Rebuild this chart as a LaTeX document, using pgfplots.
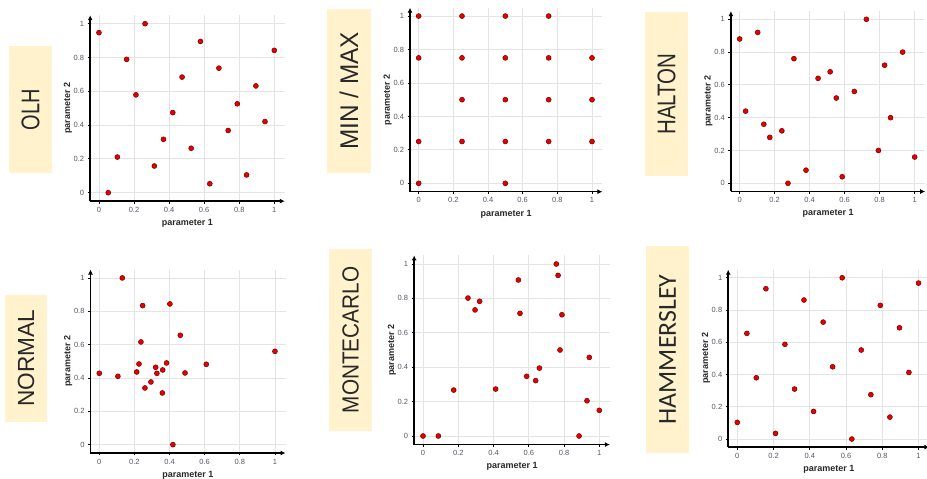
\documentclass[border=0pt]{standalone}
\usepackage{pgfplots}
\pgfplotsset{compat=1.18}
\usetikzlibrary{arrows.meta}
\usepackage{fontspec}
\setmainfont{Liberation Sans}
\newfontfamily\calib{Carlito}
\definecolor{boxfill}{RGB}{255,242,204}
\definecolor{ticklab}{RGB}{85,85,105}
\definecolor{gridc}{RGB}{228,228,228}
\definecolor{ptred}{RGB}{232,0,0}
\definecolor{ptedge}{RGB}{110,0,0}
\definecolor{labtxt}{RGB}{40,40,40}

\pgfplotsset{panel/.style={
  scale only axis, anchor=south west,
  xmin=-0.05,xmax=1.06,ymin=-0.05,ymax=1.05,
  axis lines=left,
  axis line style={line width=1.5pt,-{Latex[length=5pt,width=5pt]}},
  xtick={0,0.2,0.4,0.6,0.8,1}, ytick={0,0.2,0.4,0.6,0.8,1},
  xticklabels={0,0.2,0.4,0.6,0.8,1}, yticklabels={0,0.2,0.4,0.6,0.8,1},
  grid=major, major grid style={gridc, line width=0.8pt},
  tick style={black, line width=0.8pt}, tick align=outside, major tick length=2.5pt,
  ticklabel style={font=\fontsize{7.5}{8}\selectfont, text=ticklab},
  /pgf/number format/assume math mode=true,
  xlabel={parameter 1}, ylabel={parameter 2},
  label style={font=\bfseries\fontsize{9}{10}\selectfont, text=labtxt},
  ylabel style={yshift=-5pt},
},
pts/.style={only marks, mark=*, mark size=2.5pt, color=ptred,
     mark options={fill=ptred, draw=ptedge, line width=0.5pt}},
}

\begin{document}
\begin{tikzpicture}[x=1pt,y=1pt]
\path[use as bounding box] (0,0) rectangle (927,479);

% label boxes
\fill[boxfill] (9,306) rectangle (52,433);
\node[rotate=90,text=labtxt] at (30.5,369.5) {\fontsize{25.6}{26}\selectfont\scalebox{0.78}[1]{OLH}};
\fill[boxfill] (327,306) rectangle (371,470);
\node[rotate=90,text=labtxt] at (349,388) {\fontsize{25.6}{26}\selectfont\scalebox{0.95}[1]{MIN / MAX}};
\fill[boxfill] (645,303) rectangle (688,467);
\node[rotate=90,text=labtxt] at (666.5,385) {\fontsize{25.6}{26}\selectfont\scalebox{0.8}[1]{HALTON}};
\fill[boxfill] (5,57) rectangle (47,184);
\node[rotate=90,text=labtxt] at (26,120.5) {\fontsize{23.3}{24}\selectfont\scalebox{0.97}[1]{NORMAL}};
\fill[boxfill] (329,48) rectangle (372,230);
\node[rotate=90,text=labtxt] at (350.5,139) {\fontsize{23.3}{24}\selectfont\scalebox{0.89}[1]{MONTECARLO}};
\fill[boxfill] (646,26) rectangle (689,233);
\node[rotate=90,text=labtxt] at (667.5,129.5) {\calib\fontsize{25.9}{26}\selectfont HAMMERSLEY};

% OLH
\begin{axis}[panel, at={(90.2pt,277.85pt)}, width=194.6pt, height=185.9pt]
\addplot[pts] coordinates {(0,0.947)(0.053,0)(0.105,0.211)(0.158,0.789)(0.211,0.579)(0.263,1)(0.316,0.158)(0.368,0.316)(0.421,0.474)(0.474,0.684)(0.526,0.263)(0.579,0.895)(0.632,0.053)(0.684,0.737)(0.737,0.368)(0.789,0.526)(0.842,0.105)(0.895,0.632)(0.947,0.421)(1,0.842)};
\end{axis}

% MIN / MAX
\begin{axis}[panel, at={(410.0pt,287.3pt)}, width=192.4pt, height=184.0pt]
\addplot[pts] coordinates {(0,1)(0.25,1)(0.5,1)(0.75,1)(0,0.75)(0.25,0.75)(0.5,0.75)(0.75,0.75)(1,0.75)(0.25,0.5)(0.5,0.5)(0.75,0.5)(1,0.5)(0,0.25)(0.25,0.25)(0.5,0.25)(0.75,0.25)(1,0.25)(0,0)(0.5,0)};
\end{axis}

% HALTON
\begin{axis}[panel, at={(730.9pt,287.5pt)}, width=194.3pt, height=180.4pt]
\addplot[pts] coordinates {(0,0.88)(0.034,0.44)(0.103,0.92)(0.138,0.36)(0.172,0.28)(0.241,0.32)(0.276,0)(0.31,0.76)(0.379,0.08)(0.448,0.64)(0.517,0.68)(0.552,0.52)(0.586,0.04)(0.655,0.56)(0.724,1)(0.793,0.2)(0.828,0.72)(0.862,0.4)(0.931,0.8)(1,0.16)};
\end{axis}

% NORMAL
\begin{axis}[panel, at={(90.5pt,26.0pt)}, width=195.0pt, height=183.4pt]
\addplot[pts] coordinates {(0.131,1)(0.247,0.834)(0.402,0.844)(0.461,0.656)(0.237,0.616)(1,0.56)(0.609,0.482)(0.383,0.49)(0.226,0.484)(0.321,0.464)(0.361,0.448)(0.213,0.436)(0.328,0.428)(0.488,0.43)(0,0.428)(0.106,0.41)(0.294,0.376)(0.26,0.34)(0.359,0.31)(0.419,0)};
\end{axis}

% MONTECARLO
\begin{axis}[panel, at={(414.2pt,34.4pt)}, width=195.7pt, height=189.2pt]
\addplot[pts] coordinates {(0.756,1)(0.766,0.934)(0.541,0.907)(0.255,0.802)(0.321,0.783)(0.295,0.733)(0.55,0.713)(0.788,0.705)(0.777,0.5)(0.943,0.457)(0.66,0.395)(0.588,0.347)(0.639,0.322)(0.174,0.267)(0.412,0.273)(0.93,0.205)(1,0.149)(0,0)(0.087,0)(0.885,0)};
\end{axis}

% HAMMERSLEY
\begin{axis}[panel, at={(728.2pt,31.9pt)}, width=201.2pt, height=177.4pt]
\addplot[pts] coordinates {(0,0.103)(0.053,0.655)(0.105,0.38)(0.158,0.932)(0.211,0.035)(0.263,0.587)(0.316,0.31)(0.368,0.862)(0.421,0.171)(0.474,0.725)(0.526,0.448)(0.579,1)(0.632,0)(0.684,0.552)(0.737,0.275)(0.789,0.829)(0.842,0.136)(0.895,0.69)(0.947,0.413)(1,0.967)};
\end{axis}
\end{tikzpicture}
\end{document}
